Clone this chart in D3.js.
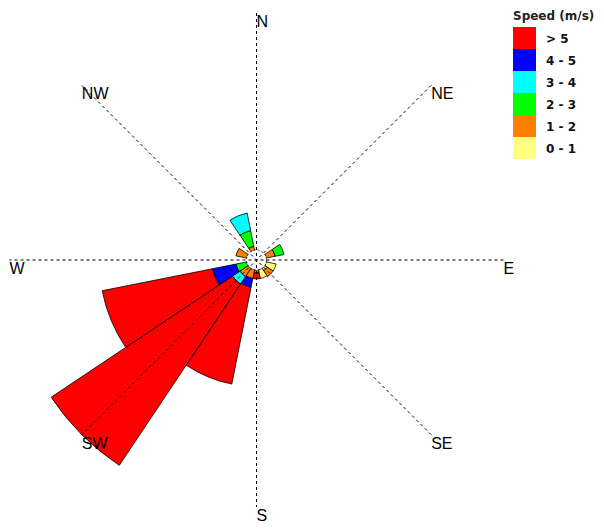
<!DOCTYPE html>
<html>
<head>
<meta charset="utf-8">
<script src="https://cdn.jsdelivr.net/npm/d3@7"></script>
<style>
  html, body { margin: 0; padding: 0; background: #fff; }
  svg { display: block; font-family: "Liberation Sans", Arial, sans-serif; }
</style>
</head>
<body>
<svg id="chart" width="604" height="530"></svg>
<script>
// ---- Data ----
const directions = ["N","NNE","NE","ENE","E","ESE","SE","SSE","S","SSW","SW","WSW","W","WNW","NW","NNW"];
const speedClasses = ["0 - 1","1 - 2","2 - 3","3 - 4","4 - 5","> 5"];
const classColors = ["#FFFF80","#FF8000","#00FF00","#00FFFF","#0000FF","#FF0000"];
// frequency (%) per direction, one array per speed class (same order as directions)
const speed0to1 = [0,0,0,0,0,1.0,0.3,0.9,0,0,0,0,0,0,0,0];
const speed1to2 = [0,0,0,0.9,0,0,0.7,0,0.3,0.9,1.0,0,0,1.1,0,0.4];
const speed2to3 = [0,0,0,0.9,0,0,0,0,0,0,0,1.1,0,0,0,1.6];
const speed3to4 = [0,0,0,0,0,0,0,0,0,0,0.9,0,0,0,0,1.8];
const speed4to5 = [0,0,0,0,0,0,0,0,0,0.9,0,2.4,0,0,0,0];
const speedOver5 = [0,0,0,0,0,0,0,0,0.6,9.9,21.9,11.3,0,0,0,0];
const compassLabels = ["N","NE","E","SE","S","SW","W","NW"];
const legendTitle = "Speed (m/s)";

const series = [speed0to1, speed1to2, speed2to3, speed3to4, speed4to5, speedOver5];

// ---- Layout ----
const svg = d3.select("#chart");
const cx = 256.5, cy = 260, R = 247, r0 = 10;

const totals = directions.map((d, i) => d3.sum(series, s => s[i]));
const rScale = d3.scaleLinear().domain([0, d3.max(totals)]).range([r0, R]);
const aScale = d3.scaleBand().domain(directions).range([-Math.PI / 16, 2 * Math.PI - Math.PI / 16]);

const stacked = [];
directions.forEach((d, i) => {
  let cum = 0;
  series.forEach((s, k) => {
    const v = s[i];
    if (v > 0) stacked.push({dir: d, k, y0: cum, y1: cum + v});
    cum += v;
  });
});

const arc = d3.arc()
  .innerRadius(d => rScale(d.y0))
  .outerRadius(d => rScale(d.y1))
  .startAngle(d => aScale(d.dir))
  .endAngle(d => aScale(d.dir) + aScale.bandwidth());

const g = svg.append("g").attr("transform", `translate(${cx},${cy})`);

g.selectAll("path.seg").data(stacked).join("path")
  .attr("class", "seg")
  .attr("d", arc)
  .attr("fill", d => classColors[d.k])
  .attr("stroke", "#000")
  .attr("stroke-width", 0.8);

// calm circle
g.append("circle").attr("r", r0)
  .attr("fill", "#fff").attr("stroke", "#000")
  .attr("stroke-width", 0.8).attr("stroke-dasharray", "2,2");

// axis lines
const angleOf = lab => compassLabels.indexOf(lab) * Math.PI / 4;
[0, 1, 2, 3].forEach(i => {
  const a = i * Math.PI / 4;
  g.append("line")
    .attr("x1", R * Math.sin(a)).attr("y1", -R * Math.cos(a))
    .attr("x2", -R * Math.sin(a)).attr("y2", R * Math.cos(a))
    .attr("stroke", "#000").attr("stroke-width", 1)
    .attr("stroke-dasharray", "3,3");
});

// compass labels
g.selectAll("text.dir").data(compassLabels).join("text")
  .attr("class", "dir")
  .attr("x", d => R * Math.sin(angleOf(d)))
  .attr("y", d => -R * Math.cos(angleOf(d)) + 14)
  .attr("font-size", 16)
  .attr("fill", "#000")
  .text(d => d);

// legend
const lg = svg.append("g").attr("font-family", "'DejaVu Sans', Verdana, sans-serif");
lg.append("text").attr("x", 513).attr("y", 20)
  .attr("font-size", 12).attr("font-weight", "bold").attr("fill", "#222")
  .text(legendTitle);
const legendOrder = d3.range(speedClasses.length).reverse();
lg.selectAll("rect").data(legendOrder).join("rect")
  .attr("x", 513).attr("y", (d, i) => 27 + i * 22)
  .attr("width", 23).attr("height", 22)
  .attr("fill", d => classColors[d]);
lg.selectAll("text.lab").data(legendOrder).join("text")
  .attr("class", "lab")
  .attr("x", 546).attr("y", (d, i) => 27 + i * 22 + 11)
  .attr("dy", "0.38em")
  .attr("font-size", 12).attr("font-weight", "bold").attr("fill", "#111")
  .text(d => speedClasses[d]);
</script>
</body>
</html>
